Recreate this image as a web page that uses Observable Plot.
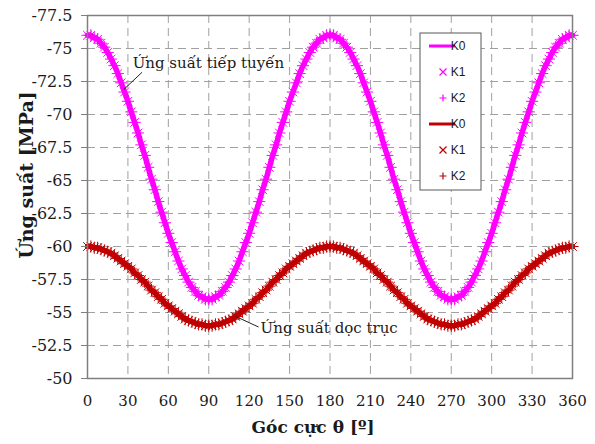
<!DOCTYPE html>
<html><head><meta charset="utf-8">
<script src="https://cdn.jsdelivr.net/npm/d3@7"></script>
<script src="https://cdn.jsdelivr.net/npm/@observablehq/plot@0.6"></script>
<style>body{margin:0;background:#fff} #chart{width:595px;height:444px}</style>
</head><body><div id="chart"></div>
<script>
// Polar angle θ [°]
const angles = [0,2.5,5,7.5,10,12.5,15,17.5,20,22.5,25,27.5,30,32.5,35,37.5,40,42.5,45,47.5,50,52.5,55,57.5,60,62.5,65,67.5,70,72.5,75,77.5,80,82.5,85,87.5,90,
92.5,95,97.5,100,102.5,105,107.5,110,112.5,115,117.5,120,122.5,125,127.5,130,132.5,135,137.5,140,142.5,145,147.5,150,152.5,155,157.5,160,162.5,165,167.5,170,172.5,175,177.5,180,
182.5,185,187.5,190,192.5,195,197.5,200,202.5,205,207.5,210,212.5,215,217.5,220,222.5,225,227.5,230,232.5,235,237.5,240,242.5,245,247.5,250,252.5,255,257.5,260,262.5,265,267.5,270,
272.5,275,277.5,280,282.5,285,287.5,290,292.5,295,297.5,300,302.5,305,307.5,310,312.5,315,317.5,320,322.5,325,327.5,330,332.5,335,337.5,340,342.5,345,347.5,350,352.5,355,357.5,360];
// Tangential stress, K0 = K1 = K2 [MPa]
const tangential = [-76.0,-76.0,-75.8,-75.7,-75.4,-75.1,-74.7,-74.2,-73.7,-73.1,-72.4,-71.7,-71.0,-70.2,-69.4,-68.6,-67.7,-66.9,-66.0,-65.1,-64.3,-63.4,-62.6,-61.8,-61.0,-60.3,-59.6,-58.9,-58.3,-57.8,-57.3,-56.9,-56.6,-56.3,-56.2,-56.0,-56.0,
-56.0,-56.2,-56.3,-56.6,-56.9,-57.3,-57.8,-58.3,-58.9,-59.6,-60.3,-61.0,-61.8,-62.6,-63.4,-64.3,-65.1,-66.0,-66.9,-67.7,-68.6,-69.4,-70.2,-71.0,-71.7,-72.4,-73.1,-73.7,-74.2,-74.7,-75.1,-75.4,-75.7,-75.8,-76.0,-76.0,
-76.0,-75.8,-75.7,-75.4,-75.1,-74.7,-74.2,-73.7,-73.1,-72.4,-71.7,-71.0,-70.2,-69.4,-68.6,-67.7,-66.9,-66.0,-65.1,-64.3,-63.4,-62.6,-61.8,-61.0,-60.3,-59.6,-58.9,-58.3,-57.8,-57.3,-56.9,-56.6,-56.3,-56.2,-56.0,-56.0,
-56.0,-56.2,-56.3,-56.6,-56.9,-57.3,-57.8,-58.3,-58.9,-59.6,-60.3,-61.0,-61.8,-62.6,-63.4,-64.3,-65.1,-66.0,-66.9,-67.7,-68.6,-69.4,-70.2,-71.0,-71.7,-72.4,-73.1,-73.7,-74.2,-74.7,-75.1,-75.4,-75.7,-75.8,-76.0,-76.0];
// Axial stress, K0 = K1 = K2 [MPa]
const axial = [-60.0,-60.0,-59.9,-59.9,-59.8,-59.7,-59.6,-59.5,-59.3,-59.1,-58.9,-58.7,-58.5,-58.3,-58.0,-57.8,-57.5,-57.3,-57.0,-56.7,-56.5,-56.2,-56.0,-55.7,-55.5,-55.3,-55.1,-54.9,-54.7,-54.5,-54.4,-54.3,-54.2,-54.1,-54.1,-54.0,-54.0,
-54.0,-54.1,-54.1,-54.2,-54.3,-54.4,-54.5,-54.7,-54.9,-55.1,-55.3,-55.5,-55.7,-56.0,-56.2,-56.5,-56.7,-57.0,-57.3,-57.5,-57.8,-58.0,-58.3,-58.5,-58.7,-58.9,-59.1,-59.3,-59.5,-59.6,-59.7,-59.8,-59.9,-59.9,-60.0,-60.0,
-60.0,-59.9,-59.9,-59.8,-59.7,-59.6,-59.5,-59.3,-59.1,-58.9,-58.7,-58.5,-58.3,-58.0,-57.8,-57.5,-57.3,-57.0,-56.7,-56.5,-56.2,-56.0,-55.7,-55.5,-55.3,-55.1,-54.9,-54.7,-54.5,-54.4,-54.3,-54.2,-54.1,-54.1,-54.0,-54.0,
-54.0,-54.1,-54.1,-54.2,-54.3,-54.4,-54.5,-54.7,-54.9,-55.1,-55.3,-55.5,-55.7,-56.0,-56.2,-56.5,-56.7,-57.0,-57.3,-57.5,-57.8,-58.0,-58.3,-58.5,-58.7,-58.9,-59.1,-59.3,-59.5,-59.6,-59.7,-59.8,-59.9,-59.9,-60.0,-60.0];
const xTicks = [0,30,60,90,120,150,180,210,240,270,300,330,360];
const yTicks = [-77.5,-75,-72.5,-70,-67.5,-65,-62.5,-60,-57.5,-55,-52.5,-50];
const legendLabels = ["K0","K1","K2","K0","K1","K2"];
const xLabel = "Góc cực θ [º]";
const yLabel = "Ứng suất [MPa]";
const annotations = [
  {text:"Ứng suất tiếp tuyến", tx:33.5, ty:-73.9, x1:27, y1:-71.9, x2:40.5, y2:-73.2},
  {text:"Ứng suất dọc trục", tx:128.5, ty:-53.8, x1:110, y1:-54.7, x2:127, y2:-53.9}
];

const MAG = "#ff00ff", RED = "#c00000";
const FONT = "DejaVu Serif";
const data = angles.map((a,i)=>({a, t:tangential[i], s:axial[i]}));
const gridStyle = {stroke:"#a0a0a0", strokeOpacity:1, strokeDasharray:"8,5", strokeWidth:1};

const plot = Plot.plot({
  width:595, height:444,
  marginLeft:87, marginRight:23, marginTop:15, marginBottom:66,
  style:{fontFamily:FONT, fontSize:"15px", color:"#1a1a1a", background:"#fff"},
  x:{domain:[0,360]},
  y:{domain:[-50,-77.5]},
  marks:[
    Plot.gridY(yTicks, gridStyle),
    Plot.gridX(xTicks, gridStyle),
    Plot.line(data,{x:"a", y:"t", stroke:MAG, strokeWidth:5.5, curve:"natural"}),
    Plot.dot(data,{x:"a", y:"t", symbol:"times", r:4, stroke:MAG, strokeWidth:1}),
    Plot.dot(data,{x:"a", y:"t", symbol:"plus", r:4, stroke:MAG, strokeWidth:1}),
    Plot.line(data,{x:"a", y:"s", stroke:RED, strokeWidth:5.5, curve:"natural"}),
    Plot.dot(data,{x:"a", y:"s", symbol:"times", r:4, stroke:RED, strokeWidth:1}),
    Plot.dot(data,{x:"a", y:"s", symbol:"plus", r:4, stroke:RED, strokeWidth:1}),
    Plot.frame({stroke:"#7f7f7f", strokeWidth:1.5}),
    Plot.axisY(yTicks,{tickFormat:d=>String(d), tickSize:6, tickPadding:9, label:null, stroke:"#7f7f7f", fontSize:16, fontFamily:FONT, fill:"#1a1a1a"}),
    Plot.axisX(xTicks,{tickFormat:d=>String(d), tickSize:0, tickPadding:17, label:null, fontSize:15, fontFamily:FONT, fill:"#1a1a1a"}),
    Plot.text([yLabel],{frameAnchor:"left", textAnchor:"middle", lineAnchor:"middle", dx:-61, dy:-22, rotate:-90, fontWeight:"bold", fontSize:19, fontFamily:FONT, fill:"#1a1a1a"}),
    Plot.text([xLabel],{frameAnchor:"bottom", textAnchor:"middle", lineAnchor:"middle", dx:-17, dy:49, fontWeight:"bold", fontSize:17, fontFamily:FONT, fill:"#1a1a1a"}),
    Plot.link(annotations,{x1:"x1", y1:"y1", x2:"x2", y2:"y2", stroke:"#222", strokeWidth:1}),
    Plot.text(annotations,{x:"tx", y:"ty", text:"text", textAnchor:"start", lineAnchor:"middle", fontSize:15, fontFamily:FONT, fill:"#1a1a1a"})
  ]
});

// Legend
const svg = d3.select(plot);
const g = svg.append("g").attr("transform","translate(420,33)");
g.append("rect").attr("width",61).attr("height",157).attr("fill","#fff").attr("stroke","#595959").attr("stroke-width",1);
const kinds = ["line","times","plus","line","times","plus"];
legendLabels.forEach((lab,i)=>{
  const c = i<3 ? MAG : RED;
  const yy = 13 + i*26;
  const row = g.append("g").attr("transform",`translate(0,${yy})`);
  if (kinds[i]==="line") {
    row.append("line").attr("x1",9).attr("x2",35).attr("y1",0).attr("y2",0).attr("stroke",c).attr("stroke-width",3);
  } else if (kinds[i]==="times") {
    row.append("path").attr("d","M-3.5,-3.5L3.5,3.5M-3.5,3.5L3.5,-3.5").attr("transform","translate(23,0)").attr("stroke",c).attr("stroke-width",1.2);
  } else {
    row.append("path").attr("d","M-3.5,0L3.5,0M0,-3.5L0,3.5").attr("transform","translate(23,0)").attr("stroke",c).attr("stroke-width",1.2);
  }
  row.append("text").attr("x",38).attr("y",0).attr("dy","0.35em").attr("font-family","Liberation Sans").attr("font-size",12).attr("fill","#1a1a1a").text(lab);
});

document.getElementById("chart").appendChild(plot);
</script>
</body></html>
